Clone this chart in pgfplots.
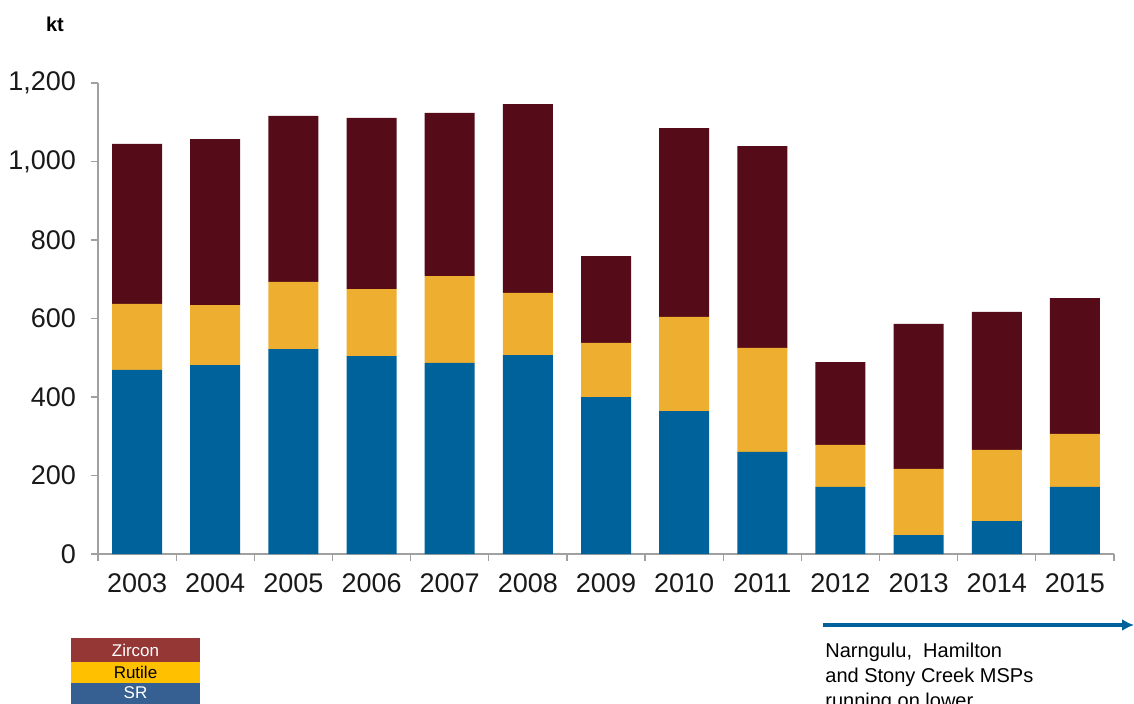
\documentclass[border=0pt]{standalone}
\usepackage{fontspec}
\setmainfont{Liberation Sans}
\usepackage{pgfplots}
\pgfplotsset{compat=1.18}
\usetikzlibrary{arrows.meta}
\definecolor{srC}{RGB}{0,98,155}
\definecolor{rutC}{RGB}{238,175,48}
\definecolor{zirC}{RGB}{86,12,24}
\definecolor{lzir}{RGB}{149,55,53}
\definecolor{lrut}{RGB}{255,192,0}
\definecolor{lsr}{RGB}{55,96,146}
\definecolor{axC}{RGB}{160,160,160}
\begin{document}
\begin{tikzpicture}
\clip (0,0) rectangle (567pt,351.5pt);
\useasboundingbox (0,0) rectangle (567pt,351.5pt);
\begin{axis}[
  at={(49pt,74.5pt)}, anchor=south west,
  scale only axis, width=508pt, height=235.5pt,
  ybar stacked, bar width=25pt,
  xmin=-0.5, xmax=12.5, ymin=0, ymax=1200,
  xtick={0,...,12},
  xticklabels={2003,2004,2005,2006,2007,2008,2009,2010,2011,2012,2013,2014,2015},
  major x tick style={draw=none},
  minor xtick={-0.5,0.5,...,12.5},
  ytick={0,200,...,1200},
  tick align=outside,
  major tick length=3.5pt, minor tick length=3.5pt,
  tick style={axC, line width=0.6pt},
  axis x line*=bottom, axis y line*=left,
  axis line style={axC, line width=0.6pt, -},
  tick label style={font=\fontsize{13.5}{15}\selectfont, text=black!90},
  yticklabel style={xshift=-4pt},
  xticklabel style={yshift=-3pt},
  /pgf/number format/assume math mode=true,
  /pgf/number format/.cd, 1000 sep={,},
]
\addplot[fill=srC, draw=none] coordinates {(0,469) (1,481) (2,522) (3,504) (4,487) (5,507) (6,400) (7,364) (8,260) (9,171) (10,48) (11,84) (12,171)};
\addplot[fill=rutC, draw=none] coordinates {(0,168) (1,153) (2,171) (3,171) (4,221) (5,158) (6,138) (7,240) (8,265) (9,107) (10,169) (11,181) (12,135)};
\addplot[fill=zirC, draw=none] coordinates {(0,408) (1,423) (2,423) (3,436) (4,416) (5,481) (6,221) (7,481) (8,514) (9,211) (10,369) (11,352) (12,346)};
\end{axis}
\node[font=\bfseries\fontsize{10}{12}\selectfont] at (27.5pt,339.5pt) {kt};
% legend boxes
\fill[lzir] (35.5pt,20.5pt) rectangle (100pt,32.5pt);
\fill[lrut] (35.5pt,10pt) rectangle (100pt,20.5pt);
\fill[lsr] (35.5pt,-5pt) rectangle (100pt,10pt);
\node[white, font=\fontsize{8.5}{10}\selectfont] at (67.75pt,26.5pt) {Zircon};
\node[black, font=\fontsize{8.5}{10}\selectfont] at (67.75pt,15.3pt) {Rutile};
\node[white, font=\fontsize{8.5}{10}\selectfont] at (67.75pt,5pt) {SR};
% arrow
\draw[srC, line width=2pt, -{Latex[length=6pt,width=6pt]}] (411.5pt,39pt) -- (567pt,39pt);
\node[anchor=base west, font=\fontsize{10}{12}\selectfont, inner sep=0] at (412.5pt,23pt) {Narngulu,\ \ Hamilton};
\node[anchor=base west, font=\fontsize{10}{12}\selectfont, inner sep=0] at (412.5pt,10.5pt) {and Stony Creek MSPs};
\node[anchor=base west, font=\fontsize{10}{12}\selectfont, inner sep=0] at (412.5pt,-2pt) {running on lower};
\end{tikzpicture}
\end{document}
